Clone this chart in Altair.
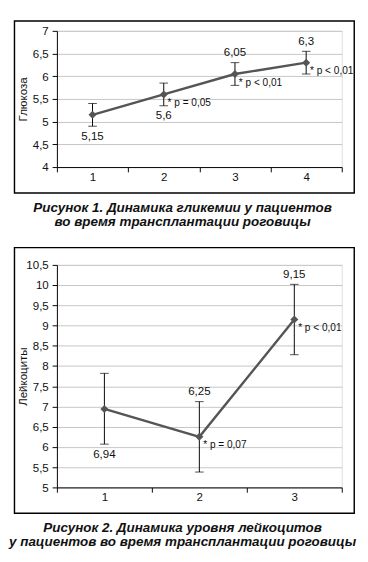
import altair as alt
import pandas as pd

# ---- data: panel 1 (glucose) ----
glu_x = ["1", "2", "3", "4"]
glu_mean = [5.15, 5.6, 6.05, 6.3]
glu_lo = [4.9, 5.35, 5.8, 6.05]
glu_hi = [5.4, 5.85, 6.3, 6.55]
glu_label = ["5,15", "5,6", "6,05", "6,3"]
glu_side = ["below", "below", "above", "above"]
glu_p = ["", "* p = 0,05", "* p < 0,01", "* p < 0,01"]
glu_ticks = [4, 4.5, 5, 5.5, 6, 6.5, 7]

# ---- data: panel 2 (leukocytes) ----
leu_x = ["1", "2", "3"]
leu_mean = [6.94, 6.25, 9.15]
leu_lo = [6.07, 5.38, 8.28]
leu_hi = [7.82, 7.12, 10.02]
leu_label = ["6,94", "6,25", "9,15"]
leu_side = ["below", "above", "above"]
leu_p = ["", "* p = 0,07", "* p < 0,01"]
leu_ticks = [5, 5.5, 6, 6.5, 7, 7.5, 8, 8.5, 9, 9.5, 10, 10.5]

cap1 = "Рисунок 1. Динамика гликемии у пациентов\nво время трансплантации роговицы"
cap2 = "Рисунок 2. Динамика уровня лейкоцитов\nу пациентов во время трансплантации роговицы"

W = 297
FONT = "Liberation Sans"
PFONT = "Liberation Sans Narrow, Liberation Sans, sans-serif"


def panel(cats, mean, lo, hi, labels, sides, ps, ticks, title, H, caption,
          frame_top, frame_bot, box_top, box_bot, cap_y):
    df = pd.DataFrame({"x": cats, "mean": mean, "lo": lo, "hi": hi,
                       "label": labels, "side": sides, "p": ps})
    xenc = alt.X("x:N", scale=alt.Scale(domain=cats, paddingInner=0, paddingOuter=0),
                 axis=alt.Axis(title=None, labelAngle=0, tickBand="extent", grid=False,
                               domainColor="black", tickColor="black", tickSize=5,
                               labelPadding=0, labelFontSize=12, labelColor="#111",
                               labelFont=FONT))
    yscale = alt.Scale(domain=[ticks[0], ticks[-1]], nice=False, zero=False)
    yaxis = alt.Axis(title=title, values=ticks,
                     labelExpr="replace(format(datum.value, '~g'), '.', ',')",
                     grid=True, gridColor="#c4c4c4", domainColor="black", tickColor="black",
                     tickSize=5, labelPadding=4, labelFontSize=12, labelColor="#111",
                     labelFont=FONT, titleX=-36, titleY=H / 2, titleAngle=270,
                     titleBaseline="middle", titleAlign="center", titleFontWeight="normal",
                     titleFontSize=12, titleFont=FONT, titleColor="#111")

    def yq(f):
        return alt.Y(f + ":Q", scale=yscale, axis=yaxis)

    base = alt.Chart(df).encode(x=xenc)
    rule = base.mark_rule(color="black", strokeWidth=1).encode(y=yq("lo"), y2="hi:Q")
    tlo = base.mark_tick(color="black", size=9, thickness=1).encode(y=yq("lo"))
    thi = base.mark_tick(color="black", size=9, thickness=1).encode(y=yq("hi"))
    line = base.mark_line(color="#555555", strokeWidth=2.5).encode(y=yq("mean"))
    pts = base.mark_point(shape="diamond", filled=True, size=70, color="#555555",
                          opacity=1).encode(y=yq("mean"))
    below = base.transform_filter(alt.datum.side == "below").mark_text(
        baseline="middle", dy=10, fontSize=12, font=FONT, color="#111").encode(
        y=yq("lo"), text="label:N")
    above = base.transform_filter(alt.datum.side == "above").mark_text(
        baseline="middle", dy=-11, fontSize=12, font=FONT, color="#111").encode(
        y=yq("hi"), text="label:N")
    ptxt = base.transform_filter(alt.datum.p != "").mark_text(
        align="left", baseline="middle", dx=4, dy=9, fontSize=10.5, font=PFONT,
        color="#111").encode(y=yq("mean"), text="p:N")

    one = pd.DataFrame({"t": [caption]})
    frame = alt.Chart(one).mark_rect(opacity=0, strokeWidth=0).encode(
        x=alt.value(-45), x2=alt.value(315), y=alt.value(frame_top), y2=alt.value(frame_bot))
    box = alt.Chart(one).mark_rect(fillOpacity=0, stroke="black", strokeWidth=1.5).encode(
        x=alt.value(-44.25), x2=alt.value(310), y=alt.value(box_top), y2=alt.value(box_bot))
    cap = alt.Chart(one).mark_text(lineBreak="\n", lineHeight=14.5, align="center",
                                   baseline="alphabetic", font=FONT, fontSize=14,
                                   fontWeight="bold", fontStyle="italic", color="#111").encode(
        text="t:N", x=alt.value(131), y=alt.value(cap_y))

    return alt.layer(frame, rule, tlo, thi, line, pts, below, above, ptxt, box, cap).properties(
        width=W, height=H)


# panel 1: plot top at page y 19 -> frame from page 8 to 230
p1 = panel(glu_x, glu_mean, glu_lo, glu_hi, glu_label, glu_side, glu_p, glu_ticks,
           "Глюкоза", 142, cap1, frame_top=-11, frame_bot=211, box_top=-10.25,
           box_bot=169, cap_y=189)
# panel 2: plot top at page y 261 -> frame from page 230 to 560
p2 = panel(leu_x, leu_mean, leu_lo, leu_hi, leu_label, leu_side, leu_p, leu_ticks,
           "Лейкоциты", 232, cap2, frame_top=-31, frame_bot=299, box_top=-18,
           box_bot=259, cap_y=279)

chart = alt.vconcat(p1, p2, spacing=0).properties(
    padding=0
).configure_view(strokeWidth=0).configure(font=FONT)

chart.save("out.html", embed_options={"renderer": "svg", "actions": False})
